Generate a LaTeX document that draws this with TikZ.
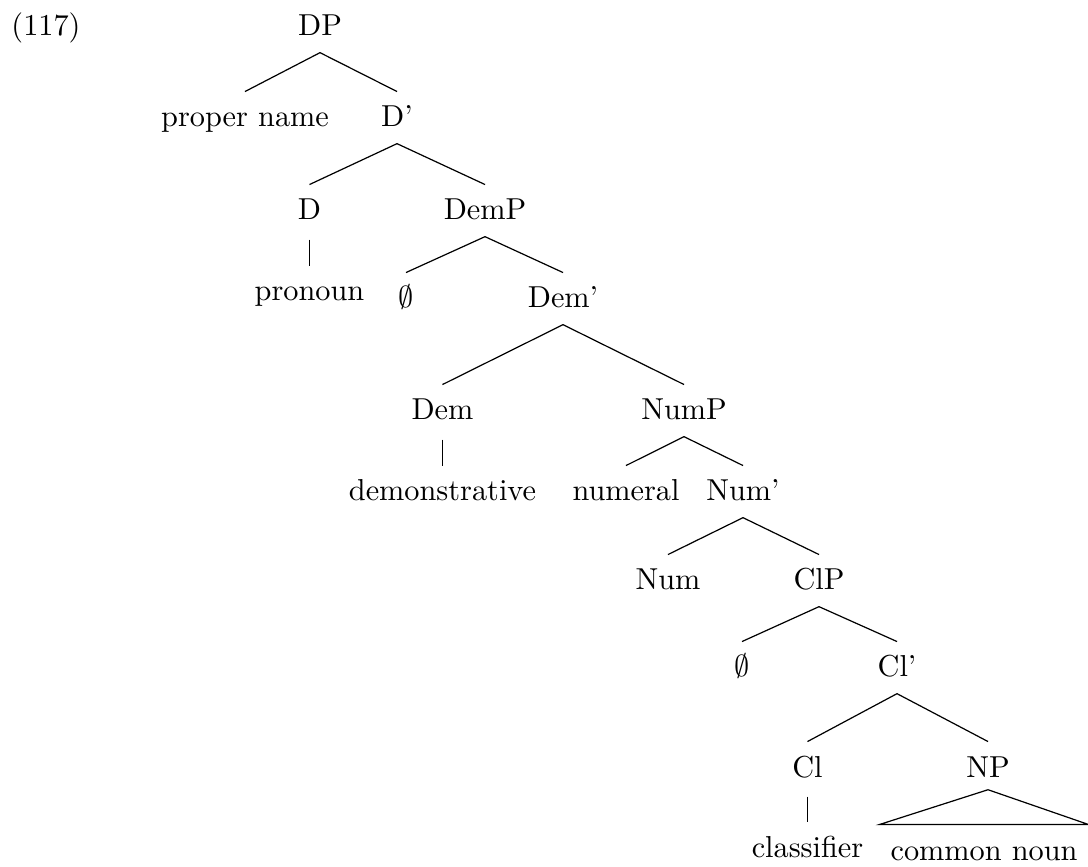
\documentclass[tikz,border=0pt]{standalone}
\usetikzlibrary{calc}
\begin{document}
\begin{tikzpicture}[x=0.33pt,y=-0.33pt,
  lab/.style={anchor=base, inner sep=0pt, text height=11.5pt, text depth=5.3pt},
  br/.style={line width=0.4pt},
  leafline/.style={line width=0.4pt, shorten <=1pt}]
\useasboundingbox (0,0) rectangle (1088,867);
\node[lab] (ex) at (46,36) {(117)};
\node[lab] (DP) at (320,36) {DP};
\node[lab] (pn) at (245,127) {proper name};
\node[lab] (Db) at (397,127) {D'};
\node[lab] (D) at (309.5,220) {D};
\node[lab] (DemP) at (485,220) {DemP};
\node[lab] (pron) at (309.5,301) {pronoun};
\node[lab] (e1) at (406,308) {$\emptyset$};
\node[lab] (Demb) at (563,308) {Dem'};
\node[lab] (Dem) at (442.5,420) {Dem};
\node[lab] (NumP) at (684,420) {NumP};
\node[lab] (demo) at (442.5,501) {demonstrative};
\node[lab] (num) at (626,501) {numeral};
\node[lab] (Numb) at (743,501) {Num'};
\node[lab] (Num) at (668,590) {Num};
\node[lab] (ClP) at (819,590) {ClP};
\node[lab] (e2) at (742,677) {$\emptyset$};
\node[lab] (Clb) at (897,677) {Cl'};
\node[lab] (Cl) at (807.5,777) {Cl};
\node[lab] (NP) at (988,777) {NP};
\node[lab] (cls) at (807.5,857) {classifier};
\node[lab, minimum width=68.64pt] (cn) at (984,860) {common noun};

\draw[br] (DP.south) -- (pn.north);
\draw[br] (DP.south) -- (Db.north);
\draw[br] (Db.south) -- (D.north);
\draw[br] (Db.south) -- (DemP.north);
\draw[leafline] (D.south) -- (D.south |- pron.north);
\draw[br] (DemP.south) -- (e1.north);
\draw[br] (DemP.south) -- (Demb.north);
\draw[br] (Demb.south) -- (Dem.north);
\draw[br] (Demb.south) -- (NumP.north);
\draw[leafline] (Dem.south) -- (Dem.south |- demo.north);
\draw[br] (NumP.south) -- (num.north);
\draw[br] (NumP.south) -- (Numb.north);
\draw[br] (Numb.south) -- (Num.north);
\draw[br] (Numb.south) -- (ClP.north);
\draw[br] (ClP.south) -- (e2.north);
\draw[br] (ClP.south) -- (Clb.north);
\draw[br] (Clb.south) -- (Cl.north);
\draw[br] (Clb.south) -- (NP.north);
\draw[leafline] (Cl.south) -- (Cl.south |- cls.north);
\draw[br] ([yshift=1.3pt]NP.south) -- (cn.north west) -- (cn.north east) -- cycle;
\end{tikzpicture}
\end{document}
